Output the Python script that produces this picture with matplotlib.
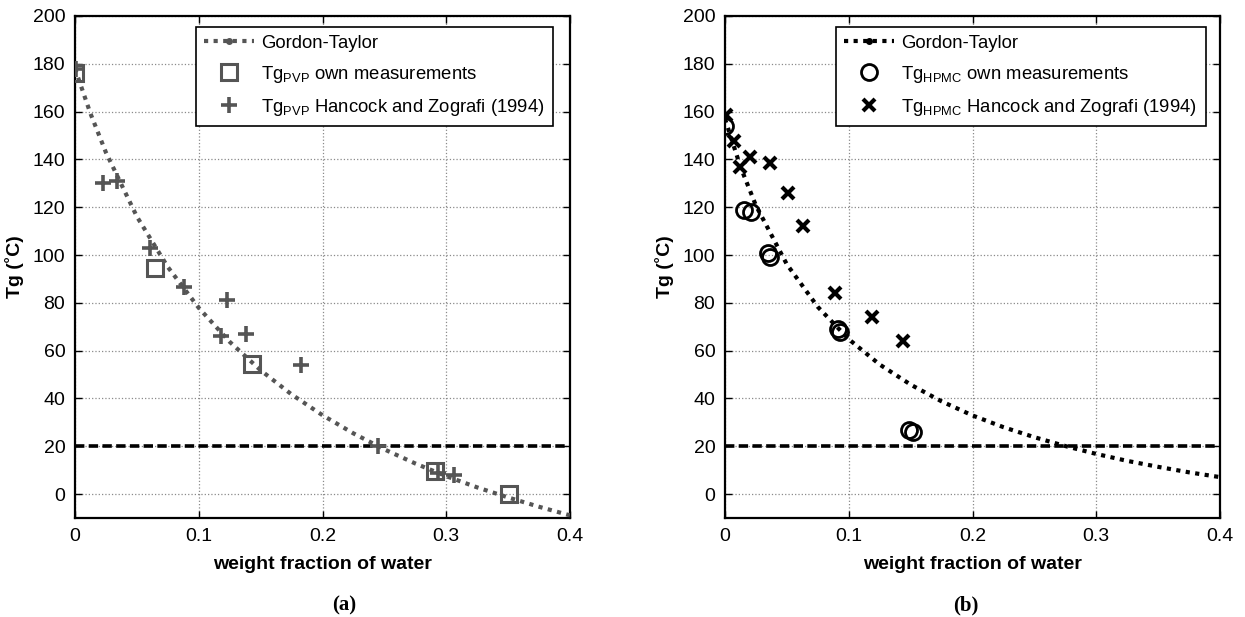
import matplotlib
matplotlib.use("Agg")
import matplotlib.pyplot as plt
from matplotlib.lines import Line2D

plt.rcParams['font.family'] = ['Liberation Sans', 'DejaVu Sans']
plt.rcParams['mathtext.fontset'] = 'custom'
plt.rcParams['mathtext.rm'] = 'Liberation Sans'

# ---- panel (a): PVP ----
pvp_gt_w = [0.0, 0.0125, 0.025, 0.05, 0.075, 0.1, 0.125, 0.15, 0.175, 0.2,
            0.225, 0.25, 0.275, 0.3, 0.325, 0.35, 0.375, 0.4]
pvp_gt_tg = [178.0, 159.2, 142.9, 116.1, 95.0, 77.9, 63.7, 51.8, 41.7, 33.0,
             25.4, 18.7, 12.8, 7.5, 2.8, -1.4, -5.3, -8.9]

pvp_own_w = [0.0, 0.065, 0.143, 0.291, 0.351]
pvp_own_tg = [176.0, 94.5, 54.5, 9.5, 0.0]

pvp_hz_w = [0.001, 0.023, 0.034, 0.061, 0.088, 0.118, 0.123, 0.138, 0.183,
            0.245, 0.293, 0.306]
pvp_hz_tg = [178.0, 130.0, 131.0, 103.0, 86.5, 66.0, 81.0, 67.0, 54.0,
             20.0, 9.0, 8.0]

# ---- panel (b): HPMC ----
hpmc_gt_w = [0.0, 0.0125, 0.025, 0.05, 0.075, 0.1, 0.125, 0.15, 0.175, 0.2,
             0.225, 0.25, 0.275, 0.3, 0.325, 0.35, 0.375, 0.4]
hpmc_gt_tg = [157.0, 136.9, 120.7, 96.1, 78.3, 64.8, 54.2, 45.8, 38.8, 32.9,
              28.0, 23.8, 20.1, 16.8, 13.9, 11.4, 9.1, 7.1]

hpmc_own_w = [0.0, 0.015, 0.021, 0.035, 0.036, 0.091, 0.093, 0.149, 0.152]
hpmc_own_tg = [154.0, 119.0, 118.0, 101.0, 99.0, 69.0, 68.0, 27.0, 26.0]

hpmc_hz_w = [0.001, 0.007, 0.012, 0.020, 0.036, 0.051, 0.063, 0.089,
             0.119, 0.144]
hpmc_hz_tg = [158.5, 147.5, 137.0, 141.0, 138.5, 126.0, 112.0, 84.0,
              74.0, 64.0]

room_temp = 20.0

x_ticks = [0, 0.1, 0.2, 0.3, 0.4]
x_ticklabels = ['0', '0.1', '0.2', '0.3', '0.4']
y_ticks = list(range(0, 201, 20))

W, H = 1245, 617
fig = plt.figure(figsize=(W / 100, H / 100), dpi=100)

def px_axes(x0, x1, y0, y1):
    return fig.add_axes([x0 / W, (H - y1) / H, (x1 - x0) / W, (y1 - y0) / H])

ax_a = px_axes(75, 570, 16, 518)
ax_b = px_axes(725, 1220, 16, 518)

GRAY = '#555555'
dot_style = (0, (1.0, 1.3))
dash_style = (0, (2.6, 1.2))
FS = 14
LEG_FS = 13.3


def style_axes(ax):
    ax.set_xlim(0, 0.4)
    ax.set_ylim(-10, 200)
    ax.set_xticks(x_ticks)
    ax.set_xticklabels(x_ticklabels)
    ax.set_yticks(y_ticks)
    ax.tick_params(direction='in', length=5, width=1.0, top=True, right=True,
                   labelsize=FS, pad=7, colors='black')
    ax.grid(True, color='#8a8a8a', linestyle=':', linewidth=0.9)
    for sp in ax.spines.values():
        sp.set_linewidth(1.6)
        sp.set_color('black')
    ax.set_xlabel('weight fraction of water', fontsize=FS, fontweight='bold',
                  labelpad=8)
    ax.set_ylabel('Tg (\u02daC)', fontsize=FS, fontweight='bold', labelpad=6)


def add_legend(ax, handles, labels, x_anchor):
    leg = ax.legend(handles, labels, loc='upper left',
                    bbox_to_anchor=(x_anchor, 0.979), fontsize=LEG_FS,
                    frameon=True, fancybox=False, borderpad=0.45,
                    labelspacing=0.65, handlelength=2.7, handletextpad=0.4,
                    borderaxespad=0, numpoints=1)
    leg.get_frame().set_edgecolor('black')
    leg.get_frame().set_linewidth(1.2)
    leg.get_frame().set_alpha(1)


# panel (a)
ax_a.plot(pvp_gt_w, pvp_gt_tg, color=GRAY, linestyle=dot_style, linewidth=3.0,
          zorder=3)
ax_a.axhline(room_temp, color='black', linestyle=dash_style, linewidth=2.6,
             zorder=2)
ax_a.plot(pvp_own_w, pvp_own_tg, linestyle='none', marker='s', markersize=11.5,
          markerfacecolor='none', markeredgecolor=GRAY, markeredgewidth=2.2,
          zorder=4)
ax_a.plot(pvp_hz_w, pvp_hz_tg, linestyle='none', marker='+', markersize=12,
          markeredgecolor=GRAY, markeredgewidth=2.6, zorder=4)
style_axes(ax_a)

h_a = [Line2D([], [], color=GRAY, linestyle=dot_style, linewidth=3.0,
              marker='o', markersize=4, markevery=[1]),
       Line2D([], [], linestyle='none', marker='s', markersize=11.5,
              markerfacecolor='none', markeredgecolor=GRAY, markeredgewidth=2.2),
       Line2D([], [], linestyle='none', marker='+', markersize=12,
              markeredgecolor=GRAY, markeredgewidth=2.6)]
l_a = ['Gordon-Taylor',
       'Tg$_{\\mathregular{PVP}}$ own measurements',
       'Tg$_{\\mathregular{PVP}}$ Hancock and Zografi (1994)']
add_legend(ax_a, h_a, l_a, 0.244)

# panel (b)
ax_b.plot(hpmc_gt_w, hpmc_gt_tg, color='black', linestyle=dot_style,
          linewidth=3.0, zorder=3)
ax_b.axhline(room_temp, color='black', linestyle=dash_style, linewidth=2.6,
             zorder=2)
ax_b.plot(hpmc_own_w, hpmc_own_tg, linestyle='none', marker='o',
          markersize=11.5, markerfacecolor='none', markeredgecolor='black',
          markeredgewidth=2.0, zorder=4)
ax_b.plot(hpmc_hz_w, hpmc_hz_tg, linestyle='none', marker='x', markersize=8,
          markeredgecolor='black', markeredgewidth=3.0, zorder=4)
style_axes(ax_b)

h_b = [Line2D([], [], color='black', linestyle=dot_style, linewidth=3.0,
              marker='o', markersize=4, markevery=[1]),
       Line2D([], [], linestyle='none', marker='o', markersize=11.5,
              markerfacecolor='none', markeredgecolor='black',
              markeredgewidth=2.0),
       Line2D([], [], linestyle='none', marker='x', markersize=8,
              markeredgecolor='black', markeredgewidth=3.0)]
l_b = ['Gordon-Taylor',
       'Tg$_{\\mathregular{HPMC}}$ own measurements',
       'Tg$_{\\mathregular{HPMC}}$ Hancock and Zografi (1994)']
add_legend(ax_b, h_b, l_b, 0.224)

# panel captions
fig.text(344 / W, 1 - 605 / H, '(a)', family='Liberation Serif',
         fontweight='bold', fontsize=15, ha='center', va='center')
fig.text(966 / W, 1 - 605 / H, '(b)', family='Liberation Serif',
         fontweight='bold', fontsize=15, ha='center', va='center')

fig.savefig('out.png', dpi=100)
